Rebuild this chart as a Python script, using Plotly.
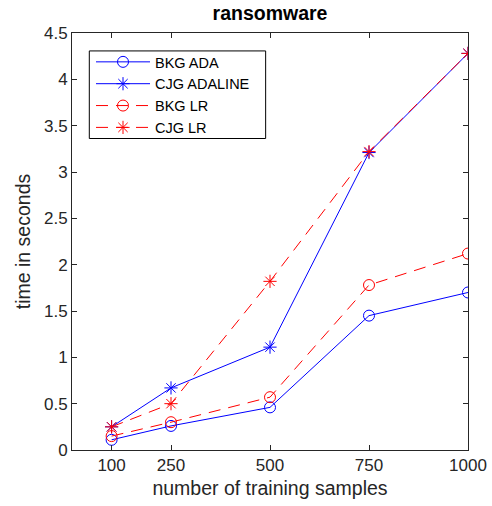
import plotly.graph_objects as go

samples = [100, 250, 500, 750, 1000]
bkg_ada = [0.11, 0.26, 0.46, 1.45, 1.70]
cjg_adaline = [0.25, 0.67, 1.11, 3.21, 4.28]
bkg_lr = [0.15, 0.30, 0.57, 1.78, 2.12]
cjg_lr = [0.25, 0.50, 1.82, 3.22, 4.28]
x_ticks = [100, 250, 500, 750, 1000]
y_ticks = [0, 0.5, 1, 1.5, 2, 2.5, 3, 3.5, 4, 4.5]
y_tick_text = ["0", "0.5", "1", "1.5", "2", "2.5", "3", "3.5", "4", "4.5"]

BLUE = "rgb(0,0,255)"
RED = "rgb(255,0,0)"
FONT = "Liberation Sans, Arial, Helvetica, sans-serif"
AX = "#262626"

fig = go.Figure()
series = [
    ("BKG ADA", bkg_ada, BLUE, "solid", "circle-open"),
    ("CJG ADALINE", cjg_adaline, BLUE, "solid", "asterisk-open"),
    ("BKG LR", bkg_lr, RED, "12px,8px", "circle-open"),
    ("CJG LR", cjg_lr, RED, "12px,8px", "asterisk-open"),
]
for name, ys, col, dash, sym in series:
    fig.add_trace(go.Scatter(
        x=samples, y=ys, name=name, mode="lines+markers",
        line=dict(color=col, width=1, dash=dash),
        marker=dict(symbol=sym, size=11, color=col, line=dict(color=col, width=1)),
    ))

axis_common = dict(
    showline=True, linecolor=AX, linewidth=1, mirror="ticks",
    ticks="inside", ticklen=5, tickcolor=AX, showgrid=False, zeroline=False,
    automargin=False,
    tickfont=dict(family=FONT, size=17, color=AX),
)
fig.update_layout(
    width=492, height=506,
    margin=dict(l=72, r=24, t=33, b=56, autoexpand=False),
    paper_bgcolor="white", plot_bgcolor="white",
    title=dict(text="<b>ransomware</b>", x=0.5, xanchor="center", xref="paper",
               y=1, yref="container", yanchor="top", pad=dict(t=6),
               font=dict(family=FONT, size=19.5, color="black")),
    xaxis=dict(range=[0, 1000], tickvals=x_ticks, ticktext=[str(v) for v in x_ticks],
               title=dict(text="number of training samples", standoff=6,
                          font=dict(family=FONT, size=19.5, color=AX)),
               **axis_common),
    yaxis=dict(range=[0, 4.5], tickvals=y_ticks, ticktext=y_tick_text,
               title=dict(text="time in seconds", standoff=8,
                          font=dict(family=FONT, size=19.5, color=AX)),
               **axis_common),
    legend=dict(x=0.048, y=0.969, xanchor="left", yanchor="top",
                borderwidth=0, bgcolor="rgba(0,0,0,0)",
                itemwidth=54, tracegroupgap=0,
                font=dict(family=FONT, size=14.5, color="black")),
    showlegend=True,
    shapes=[dict(type="rect", xref="paper", yref="paper",
                 x0=0.0437, x1=0.489, y0=0.747, y1=0.957,
                 line=dict(color="black", width=1), fillcolor="white", layer="below")],
)
fig.write_html("out.html")
